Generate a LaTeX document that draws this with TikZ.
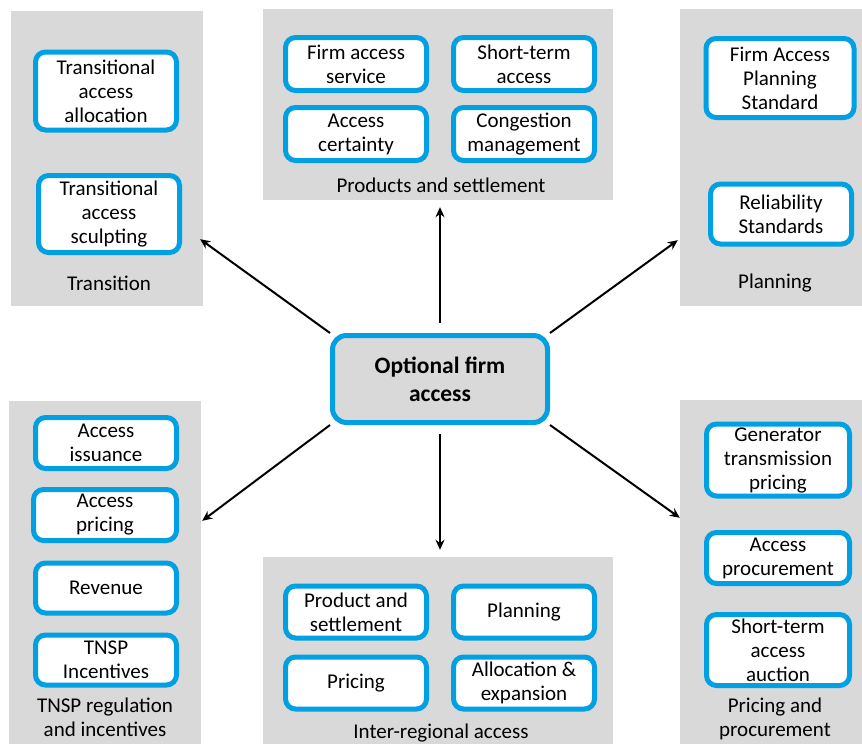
\documentclass[tikz,border=0pt]{standalone}
\usepackage{fontspec}
\setmainfont{Carlito}
\usetikzlibrary{calc,arrows.meta}
\definecolor{panelgray}{RGB}{217,217,217}
\definecolor{boxblue}{RGB}{0,160,226}
\tikzset{
  panel/.style={fill=panelgray, inner sep=0pt},
  item/.style={draw=boxblue, fill=white, line width=5pt, rounded corners=10pt,
    align=center, inner sep=0pt, minimum width=141pt},
  hub/.style={draw=boxblue, fill=panelgray, line width=5pt, rounded corners=14pt,
    align=center, inner sep=0pt, minimum width=215pt, minimum height=87pt,
    font=\fontsize{23.5}{28}\selectfont\bfseries},
  caption/.style={align=center, inner sep=0pt},
  arrow/.style={->, >={Stealth[length=10pt,width=9pt]}, line width=2pt}
}
\begin{document}
\begin{tikzpicture}[x=1pt, y=-1pt, font=\fontsize{21}{24}\selectfont]
	\useasboundingbox (0,0) rectangle (862,744);
	% panels
	\node [panel, minimum width=192pt, minimum height=295pt] (trans) at (107,158.5) {};
	\node [panel, minimum width=350pt, minimum height=191pt] (prod) at (438,104.5) {};
	\node [panel, minimum width=182pt, minimum height=297pt] (plan) at (771,157.5) {};
	\node [panel, minimum width=192pt, minimum height=343pt] (tnsp) at (105,572.5) {};
	\node [panel, minimum width=350pt, minimum height=187pt] (inter) at (438,650.5) {};
	\node [panel, minimum width=182pt, minimum height=344pt] (price) at (771,572) {};
	% transition
	\node [item, minimum height=78pt] (tralloc) at (106,91) {Transitional\\access\\allocation};
	\node [item, minimum height=77pt] (trsculpt) at (109,214) {Transitional\\access\\sculpting};
	\node [caption] (transcap) at (109,283) {Transition};
	% products and settlement
	\node [item, minimum height=53pt] (firmsvc) at (356,64) {Firm access\\service};
	\node [item, minimum height=53pt] (shortterm) at (524,64) {Short-term\\access};
	\node [item, minimum height=53pt] (certainty) at (356,134) {Access\\certainty};
	\node [item, minimum height=53pt] (congestion) at (524,134) {Congestion\\management};
	\node [caption] (prodcap) at (441,185) {Products and settlement};
	% planning
	\node [item, minimum width=148pt, minimum height=79pt] (fapstd) at (780,78) {Firm Access\\Planning\\Standard};
	\node [item, minimum height=60pt] (reliab) at (781,214) {Reliability\\Standards};
	\node [caption] (plancap) at (775,283) {Planning};
	% TNSP regulation
	\node [item, minimum height=51pt] (issuance) at (106,443) {Access\\issuance};
	\node [item, minimum width=143pt, minimum height=51pt] (accpricing) at (105,515) {Access\\pricing};
	\node [item, minimum height=50pt] (revenue) at (106,588) {Revenue};
	\node [item, minimum height=50pt] (incent) at (106,660) {TNSP\\Incentives};
	\node [caption] (tnspcap) at (105,717) {TNSP regulation\\and incentives};
	% inter-regional
	\node [item, minimum height=52pt] (prodsettle) at (356,612) {Product and\\settlement};
	\node [item, minimum height=52pt] (irplan) at (524,612) {Planning};
	\node [item, minimum height=52pt] (irpricing) at (356,683) {Pricing};
	\node [item, minimum height=52pt] (allocexp) at (524,683) {Allocation \&\\expansion};
	\node [caption] (intercap) at (441,733) {Inter-regional access};
	% pricing and procurement
	\node [item, minimum width=143pt, minimum height=72pt] (gentx) at (778,460) {Generator\\transmission\\pricing};
	\node [item, minimum width=143pt, minimum height=51pt] (procure) at (778,558) {Access\\procurement};
	\node [item, minimum width=143pt, minimum height=71pt] (auction) at (778,650) {Short-term\\access\\auction};
	\node [caption] (pricecap) at (775,719) {Pricing and\\procurement};
	% centre
	\node [hub] (opt) at (440,379) {Optional firm\\access};
	\draw [arrow] (opt.north west) -- ($(trans.south east)+(-3,-67)$);
	\draw [arrow] ($(opt.north)+(0,-10)$) -- ($(prod.south)+(2,7)$);
	\draw [arrow] (opt.north east) -- ($(plan.south west)+(-2,-66)$);
	\draw [arrow] (opt.south west) -- ($(tnsp.north east)+(1,120)$);
	\draw [arrow] ($(opt.south)+(0,9)$) -- ($(inter.north)+(2,-7)$);
	\draw [arrow] (opt.south east) -- ($(price.north west)+(0,118)$);
\end{tikzpicture}
\end{document}
